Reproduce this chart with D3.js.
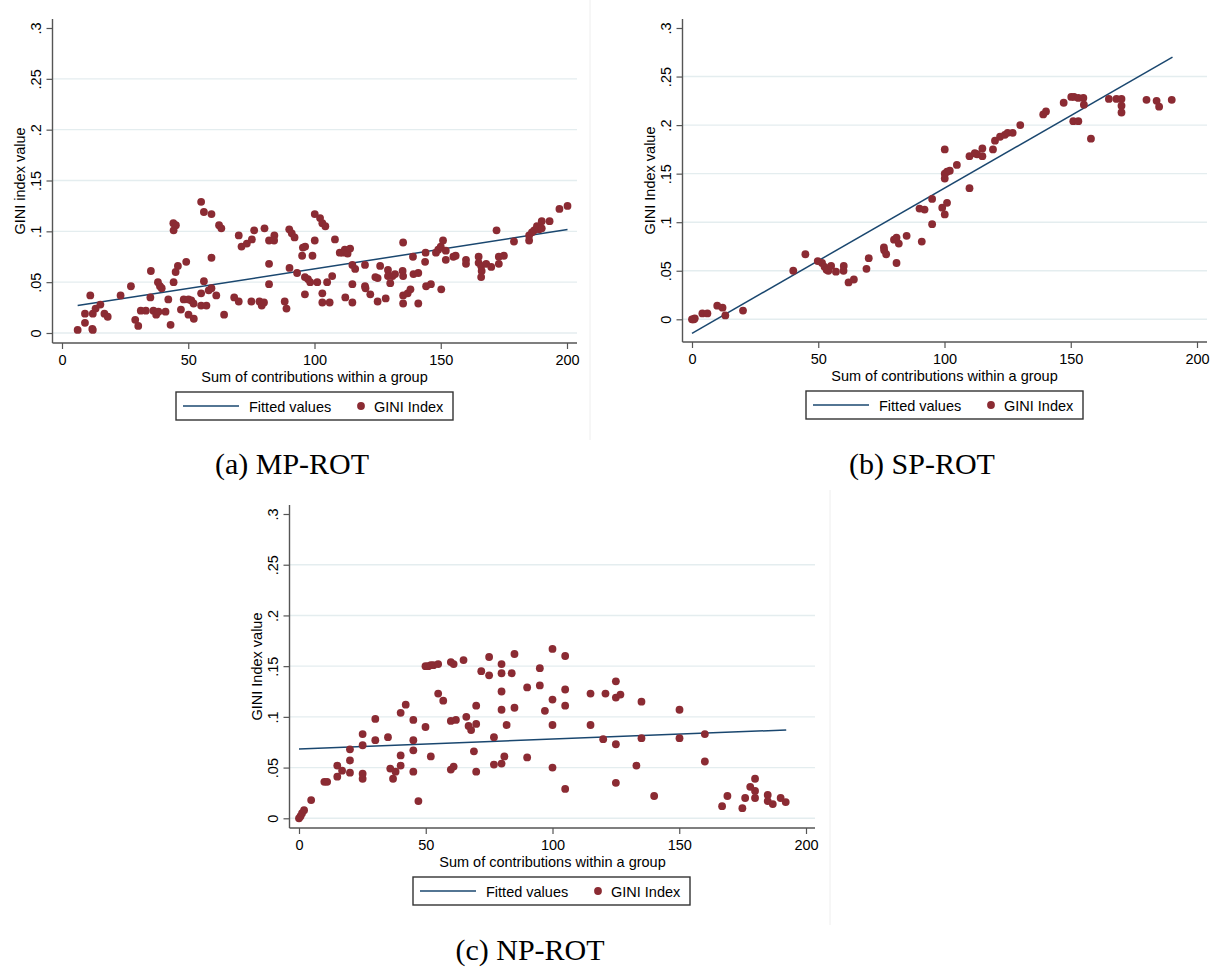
<!DOCTYPE html>
<html><head><meta charset="utf-8">
<script src="https://cdn.jsdelivr.net/npm/d3@7"></script>
<style>body{margin:0;background:#fff}svg{display:block}</style>
</head><body>
<svg id="chart" width="1222" height="970"></svg>
<script>
// ---------- data ----------
const xTickValues = [0, 50, 100, 150, 200];
const xTickLabels = ["0", "50", "100", "150", "200"];
const yTickValues = [0, 0.05, 0.1, 0.15, 0.2, 0.25, 0.3];
const yTickLabels = ["0", ".05", ".1", ".15", ".2", ".25", ".3"];
const xTitle = "Sum of contributions within a group";
const legendLabels = ["Fitted values", "GINI Index"];

// (a) MP-ROT
const mpContrib = [6.2,9.1,9.1,11.2,12,12.2,12.2,13.3,15.2,16.8,18.1,23.2,27.3,29,30.2,31.2,33.2,35.2,35,36.2,37.3,38.2,38,38.8,39.5,41,42.1,43,44.2,45,45.9,44.1,45.1,44.2,47.1,48.2,49.2,50.1,50.1,51.2,52.2,52.1,55.1,56.2,59.2,55.1,56.2,55.1,57.2,58.1,59.2,59.2,61.1,62.2,63.1,64.2,68.2,70,70,71.1,73.2,75.2,76.1,75,78.2,79.1,80,80.2,82,84.1,84,82,82,88.2,88.9,90,91,92.1,90.1,93.1,95.1,95.4,96.3,96.2,97.4,98.3,96.2,99.2,100.1,100.1,101.1,102.2,103.1,104.3,103.1,103.1,105,106,107,108.1,110,111.1,112,113.1,114.1,112.2,115,115,115,116.1,120,120,120.2,122.1,124.1,125,125,126,128.2,129.1,129.1,130,130.9,131.9,135.1,134.9,135.1,135.1,135.1,136.9,138,139,139.2,141.1,141.1,144,143.8,144.2,146.1,148.1,149,150,150.9,150.2,152,152,155,155.9,160,160,165,165,166,166.2,166,168,170,172.1,173,173,175,179,185,185,186.1,187,188.1,189,190,190,193.1,197,200.2];
const mpGini = [0.003,0.010,0.019,0.037,0.004,0.003,0.019,0.024,0.028,0.019,0.016,0.037,0.046,0.013,0.007,0.022,0.022,0.061,0.035,0.022,0.018,0.021,0.050,0.046,0.044,0.021,0.033,0.008,0.050,0.060,0.066,0.108,0.106,0.101,0.023,0.033,0.070,0.033,0.018,0.032,0.014,0.029,0.129,0.119,0.117,0.039,0.051,0.027,0.027,0.042,0.044,0.074,0.037,0.106,0.103,0.018,0.035,0.031,0.096,0.085,0.088,0.092,0.101,0.031,0.031,0.027,0.030,0.103,0.091,0.096,0.091,0.068,0.048,0.031,0.024,0.102,0.098,0.094,0.064,0.059,0.076,0.084,0.085,0.055,0.053,0.050,0.038,0.076,0.091,0.117,0.050,0.113,0.108,0.105,0.039,0.030,0.050,0.030,0.056,0.092,0.079,0.079,0.082,0.078,0.083,0.035,0.030,0.048,0.067,0.063,0.067,0.046,0.044,0.038,0.055,0.054,0.031,0.066,0.034,0.062,0.056,0.049,0.056,0.058,0.089,0.061,0.056,0.037,0.029,0.039,0.043,0.075,0.058,0.059,0.029,0.079,0.070,0.046,0.048,0.079,0.082,0.085,0.091,0.043,0.072,0.081,0.075,0.076,0.072,0.068,0.075,0.069,0.066,0.061,0.055,0.068,0.065,0.101,0.075,0.068,0.076,0.090,0.091,0.096,0.099,0.101,0.105,0.102,0.110,0.103,0.110,0.122,0.125];
const mpFitX = [6.2, 200.2];
const mpFitY = [0.0270, 0.1017];

// (b) SP-ROT
const spContrib = [0.3,1.1,0.8,0,4.1,6.1,10,12.1,13.2,20.2,40.1,44.9,49.8,51.5,52.5,53.3,54,55.1,57,60.1,60,62,64.1,69.1,70,76,76.1,76.9,80,81,81.9,81,85,90.1,92.1,91,95.1,95.1,99.1,100.1,101,100.1,100.1,100.1,101,102.1,104.9,109.9,109.9,112,112.9,115,115,119.2,120,122,123.9,125,127,130,139.1,140.2,147.2,150.2,151.3,153,155,155.2,151,153,158,165.1,168.1,170.1,170.1,170.1,180,184,185,190];
const spGini = [0.000,0.001,0.000,0.000,0.006,0.006,0.014,0.012,0.004,0.009,0.050,0.067,0.060,0.058,0.054,0.051,0.050,0.055,0.049,0.055,0.050,0.038,0.041,0.052,0.063,0.074,0.071,0.067,0.082,0.084,0.078,0.058,0.086,0.114,0.113,0.080,0.124,0.098,0.115,0.108,0.120,0.175,0.150,0.145,0.152,0.153,0.159,0.135,0.168,0.171,0.170,0.168,0.176,0.175,0.184,0.188,0.190,0.192,0.192,0.200,0.211,0.214,0.223,0.229,0.229,0.228,0.228,0.221,0.204,0.204,0.186,0.227,0.227,0.227,0.220,0.213,0.226,0.225,0.219,0.226];
const spFitX = [0, 190.3];
const spFitY = [-0.0144, 0.2700];

// (c) NP-ROT
const npContrib = [0,0.6,1.2,2,4.8,10,11.1,15.1,15.1,17,20.1,20.1,20.1,25.1,25.1,25.1,25.1,30.1,30.1,35.1,36,37.1,38.1,40.1,42.1,40.1,40.1,45.1,45.1,45.1,45.1,47.1,49.9,49.9,51,52,53,54.9,54.9,56.9,52,59.9,61,59.9,61.9,59.9,61,64.9,66,66.9,67.9,69.9,69.9,69,69.9,71.9,75,75,76.9,76.9,79.9,79.9,79.9,79.9,79.9,81,81.9,83.9,85,85,90,90,95,95,97,100,100,100,100,105,105,105,105,115,115,120,120.9,125,125,126.8,125,125,133.1,135.1,135.1,140.1,150.1,150.1,160.1,160.1,166.9,169,174.9,176,178,179.9,179.9,179.9,184.9,184.9,186.9,190,192];
const npGini = [0,0.002,0.005,0.008,0.018,0.036,0.036,0.052,0.041,0.047,0.068,0.057,0.045,0.083,0.072,0.044,0.039,0.098,0.077,0.080,0.049,0.039,0.046,0.104,0.112,0.062,0.052,0.097,0.077,0.067,0.046,0.017,0.090,0.150,0.150,0.151,0.151,0.152,0.123,0.116,0.061,0.154,0.152,0.096,0.097,0.048,0.051,0.156,0.100,0.091,0.087,0.093,0.111,0.066,0.046,0.145,0.159,0.141,0.080,0.053,0.152,0.143,0.125,0.107,0.054,0.061,0.092,0.143,0.162,0.109,0.129,0.060,0.148,0.131,0.106,0.167,0.117,0.092,0.050,0.160,0.127,0.111,0.029,0.123,0.092,0.078,0.123,0.135,0.119,0.122,0.073,0.035,0.052,0.115,0.079,0.022,0.107,0.079,0.083,0.056,0.012,0.022,0.010,0.020,0.031,0.039,0.027,0.020,0.023,0.017,0.014,0.020,0.016];
const npFitX = [0, 192.2];
const npFitY = [0.0684, 0.0871];

const yTitles = ["GINI index value", "GINI Index value", "GINI Index value"];
const captions = ["(a) MP-ROT", "(b) SP-ROT", "(c) NP-ROT"];

// ---------- layout ----------
const layouts = [
  {xr:[62,567],  yr:[333,28],    left:52.5, right:577,  top:19,  bottom:343, capX:292, capY:474},
  {xr:[692,1197],yr:[319.3,28],  left:682.5,right:1207, top:19,  bottom:342, capX:922, capY:474},
  {xr:[299,806], yr:[818.3,514], left:289.5,right:815,  top:505, bottom:828, capX:530, capY:960}
];
const series = [
  {cx:mpContrib, gy:mpGini, fx:mpFitX, fy:mpFitY},
  {cx:spContrib, gy:spGini, fx:spFitX, fy:spFitY},
  {cx:npContrib, gy:npGini, fx:npFitX, fy:npFitY}
];

const MAROON = "#8b2b33", NAVY = "#1a476f", GRID = "#e4edef", AXIS = "#555";
const FONT = "'Liberation Sans', Arial, sans-serif";
const FS = 14.5, R = 3.9;
const svg = d3.select("#chart");

// faint sub-figure borders
svg.append("line").attr("x1",590).attr("x2",590).attr("y1",0).attr("y2",440).attr("stroke","#eeeeee");
svg.append("line").attr("x1",830).attr("x2",830).attr("y1",490).attr("y2",925).attr("stroke","#eeeeee");

layouts.forEach((L, i) => {
  const s = series[i];
  const x = d3.scaleLinear().domain([0,200]).range(L.xr);
  const y = d3.scaleLinear().domain([0,0.3]).range(L.yr);
  const g = svg.append("g");

  // gridlines
  g.selectAll("line.grid").data(yTickValues.filter(v => v < 0.3)).join("line")
    .attr("x1", L.left).attr("x2", L.right)
    .attr("y1", d => y(d)).attr("y2", d => y(d))
    .attr("stroke", GRID).attr("stroke-width", 1.4);

  // fitted line
  g.append("path")
    .datum(s.fx.map((v,k) => [v, s.fy[k]]))
    .attr("d", d3.line().x(d => x(d[0])).y(d => y(d[1])))
    .attr("fill","none").attr("stroke",NAVY).attr("stroke-width",1.5);

  // points
  g.selectAll("circle.pt").data(s.cx.map((v,k) => [v, s.gy[k]])).join("circle")
    .attr("cx", d => x(d[0])).attr("cy", d => y(d[1])).attr("r", R)
    .attr("fill", MAROON);

  // x axis
  const xa = g.append("g").attr("transform", `translate(0,${L.bottom})`)
    .call(d3.axisBottom(x).tickValues(xTickValues).tickFormat((d,k) => xTickLabels[k]).tickSize(6).tickSizeOuter(0));
  xa.select(".domain").remove();
  xa.selectAll(".tick line").attr("stroke", AXIS).attr("stroke-width", 1.2);
  xa.selectAll(".tick text").attr("y", 22).attr("dy", 0)
    .attr("font-family", FONT).attr("font-size", FS).attr("fill", "#000");
  g.append("line").attr("x1", L.left).attr("x2", L.right).attr("y1", L.bottom).attr("y2", L.bottom)
    .attr("stroke", AXIS).attr("stroke-width", 1.4);

  // y axis
  const ya = g.append("g").attr("transform", `translate(${L.left},0)`)
    .call(d3.axisLeft(y).tickValues(yTickValues).tickFormat((d,k) => yTickLabels[k]).tickSize(6).tickSizeOuter(0));
  ya.select(".domain").remove();
  ya.selectAll(".tick line").attr("stroke", AXIS).attr("stroke-width", 1.2);
  ya.selectAll(".tick text").attr("x", 0).attr("y", -12).attr("dy", 0)
    .attr("transform", "rotate(-90)").attr("text-anchor", "middle")
    .attr("font-family", FONT).attr("font-size", FS).attr("fill", "#000");
  g.append("line").attr("x1", L.left).attr("x2", L.left).attr("y1", L.top).attr("y2", L.bottom)
    .attr("stroke", AXIS).attr("stroke-width", 1.4);

  // titles
  g.append("text").attr("x", x(100)).attr("y", L.bottom + 39).attr("text-anchor","middle")
    .attr("font-family", FONT).attr("font-size", FS).text(xTitle);
  g.append("text").attr("transform", `translate(${L.left - 28},${(L.top + L.bottom)/2}) rotate(-90)`)
    .attr("text-anchor","middle").attr("font-family", FONT).attr("font-size", FS).text(yTitles[i]);

  // legend
  const lx = L.xr[0] + 114, ly = L.bottom + 49;
  const lg = g.append("g");
  lg.append("rect").attr("x", lx).attr("y", ly).attr("width", 277).attr("height", 28)
    .attr("fill","#fff").attr("stroke","#333").attr("stroke-width",1.4);
  lg.append("line").attr("x1", lx+7).attr("x2", lx+63).attr("y1", ly+14).attr("y2", ly+14)
    .attr("stroke", NAVY).attr("stroke-width", 1.5);
  lg.append("text").attr("x", lx+73).attr("y", ly+19.5).attr("font-family", FONT).attr("font-size", FS).text(legendLabels[0]);
  lg.append("circle").attr("cx", lx+185).attr("cy", ly+14).attr("r", R).attr("fill", MAROON);
  lg.append("text").attr("x", lx+198).attr("y", ly+19.5).attr("font-family", FONT).attr("font-size", FS).text(legendLabels[1]);

  // caption
  svg.append("text").attr("x", L.capX).attr("y", L.capY).attr("text-anchor","middle")
    .attr("font-family", "'Liberation Serif', 'DejaVu Serif', serif").attr("font-size", 30)
    .attr("fill","#000").text(captions[i]);
});
</script>
</body></html>
